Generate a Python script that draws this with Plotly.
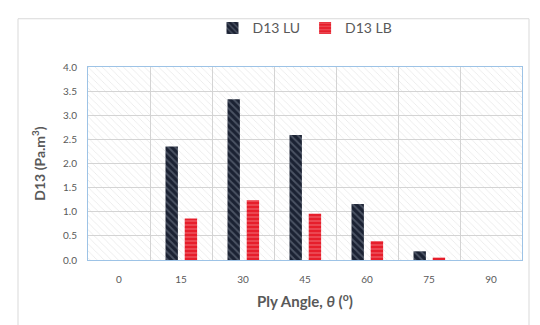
import plotly.graph_objects as go

# Ply angles (degrees) and D13 coefficients
angles = ["0", "15", "30", "45", "60", "75", "90"]
d13_lu = [0.0, 2.35, 3.33, 2.59, 1.16, 0.18, 0.0]
d13_lb = [0.0, 0.86, 1.24, 0.96, 0.39, 0.05, 0.0]
y_ticks = [0.0, 0.5, 1.0, 1.5, 2.0, 2.5, 3.0, 3.5, 4.0]

pos = list(range(len(angles)))
font = "Lato, 'Open Sans', sans-serif"
grey = "#595959"

fig = go.Figure()

# hatched plot-area background
fig.add_trace(go.Bar(
    x=[0], y=[max(y_ticks)], base=0, offset=-0.5, width=len(angles),
    marker=dict(color="rgba(0,0,0,0)", line=dict(width=0),
                pattern=dict(shape="\\", fgcolor="#cfcfcf", bgcolor="rgba(0,0,0,0)",
                             size=5, solidity=0.15)),
    showlegend=False, hoverinfo="skip",
))

fig.add_trace(go.Bar(
    name="D13 LU", x=pos, y=d13_lu, offset=-0.25, width=0.2,
    marker=dict(color="#1b2233", line=dict(width=0),
                pattern=dict(shape="\\", fgcolor="#7d8696", size=5, solidity=0.35)),
))
fig.add_trace(go.Bar(
    name="D13 LB", x=pos, y=d13_lb, offset=0.06, width=0.2,
    marker=dict(color="#e61e2b", line=dict(width=0),
                pattern=dict(shape="-", fgcolor="#f7a3a8", size=4, solidity=0.3)),
))

fig.update_layout(
    width=540, height=325,
    margin=dict(l=88, r=18, t=56, b=65),
    paper_bgcolor="white", plot_bgcolor="white",
    barmode="overlay",
    font=dict(family=font, color=grey),
    legend=dict(orientation="h", x=0.5, y=1.2, xanchor="center", yanchor="middle",
                font=dict(size=14, color=grey), itemwidth=30, traceorder="normal",
                bgcolor="rgba(0,0,0,0)"),
    xaxis=dict(
        range=[-0.5, len(angles) - 0.5],
        tickmode="array", tickvals=pos, ticktext=angles,
        tickfont=dict(size=10, color=grey), ticks="", ticklabelstandoff=10,
        showgrid=False, zeroline=False,
        minor=dict(tick0=0.5, dtick=1, showgrid=True, gridcolor="#d4d4d4", gridwidth=1),
        showline=True, linecolor="#9dc3e6", linewidth=1, mirror=True,
        title=dict(text="<b>Ply Angle, <i>θ</i> (<sup>o</sup>)</b>",
                   font=dict(size=15, color=grey), standoff=12),
    ),
    yaxis=dict(
        range=[0, 4.0], tickmode="array", tickvals=y_ticks,
        ticktext=[f"{v:.1f}" for v in y_ticks],
        tickfont=dict(size=10, color=grey), ticks="", ticklabelstandoff=8,
        showgrid=True, gridcolor="#d4d4d4", gridwidth=1, zeroline=False,
        showline=True, linecolor="#9dc3e6", linewidth=1, mirror=True,
        title=dict(text="<b>D13 (Pa.m<sup>3</sup>)</b>",
                   font=dict(size=14, color=grey), standoff=14),
    ),
    shapes=[dict(type="rect", xref="paper", yref="paper",
                 x0=(18 - 88) / 434, x1=(529 - 88) / 434,
                 y0=-0.4, y1=(260 - 5) / 204,
                 line=dict(color="#d9d9d9", width=1), layer="below")],
)

fig.write_html("out.html")
